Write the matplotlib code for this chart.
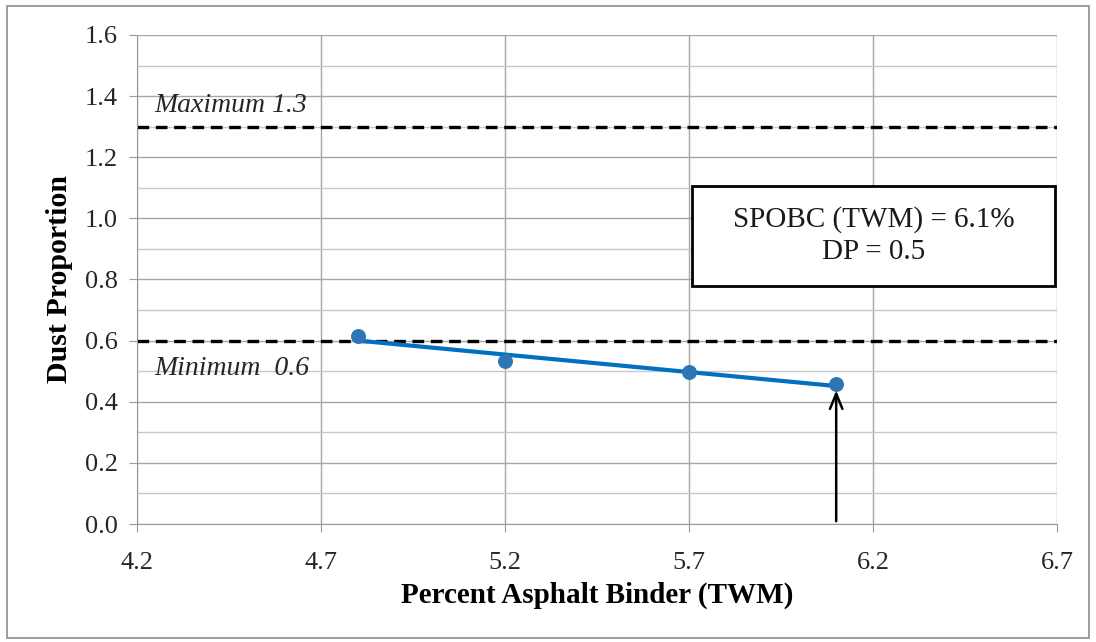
import matplotlib
matplotlib.use("Agg")
import matplotlib.pyplot as plt
import numpy as np
from matplotlib.patches import Rectangle

binder = [4.8, 5.2, 5.7, 6.1]
dust_prop = [0.615, 0.533, 0.497, 0.458]
max_limit = 1.3
min_limit = 0.6
spobc = 6.1

plt.rcParams['font.family'] = ['Liberation Serif', 'DejaVu Serif']

fig = plt.figure(figsize=(10.96, 6.42), dpi=100)
ax = fig.add_axes([0.125, 0.1838, 0.8394, 0.7617])

ax.set_xlim(4.2, 6.7)
ax.set_ylim(0, 1.6)
ax.set_xticks(np.arange(4.2, 6.71, 0.5))
ax.set_yticks(np.arange(0, 1.61, 0.2))
ax.set_yticks(np.arange(0, 1.61, 0.1), minor=True)
ax.set_xticklabels([f"{v:.1f}" for v in np.arange(4.2, 6.71, 0.5)])
ax.set_yticklabels([f"{v:.1f}" for v in np.arange(0, 1.61, 0.2)])
ax.tick_params(axis='both', labelsize=19, color='#999999', length=6, direction='out', labelcolor='#262626')
ax.tick_params(axis='y', which='minor', length=0)
ax.tick_params(axis='x', pad=14)
ax.tick_params(axis='y', pad=8)
ax.grid(True, which='major', color='#a6a6a6', lw=1)
ax.grid(True, which='minor', axis='y', color='#c8c8c8', lw=1)
ax.set_axisbelow(True)
for s in ['top', 'right']:
    ax.spines[s].set_visible(False)
for s in ['left', 'bottom']:
    ax.spines[s].set_color('#999999')

ax.axhline(max_limit, color='black', ls=(0, (3.5, 2)), lw=2.4)
ax.axhline(min_limit, color='black', ls=(0, (3.5, 2)), lw=2.4)
ax.text(4.248, 1.37, f"Maximum {max_limit}", fontsize=20, style='italic', va='center', color='#262626')
ax.text(4.248, 0.51, f"Minimum  {min_limit}", fontsize=20, style='italic', va='center', color='#262626')

coef = np.polyfit(binder, dust_prop, 1)
xs = np.array([min(binder), max(binder)])
ax.plot(xs, np.polyval(coef, xs), color='#0070C0', lw=3, zorder=3)
ax.scatter(binder, dust_prop, s=95, color='#2E75B6', zorder=4)

ax.annotate('', xy=(spobc, np.polyval(coef, spobc) - 0.005), xytext=(spobc, 0),
            arrowprops=dict(arrowstyle='->,head_width=0.45,head_length=1.1', color='black', lw=1.8))

ax.add_patch(Rectangle((5.708, 0.779), 0.986, 0.327, fc='white', ec='black', lw=2, zorder=5))
ax.text(6.201, 0.9425, "SPOBC (TWM) = 6.1%\nDP = 0.5", fontsize=21, ha='center', va='center',
        linespacing=1.3, zorder=6, color='#1a1a1a')

ax.set_xlabel("Percent Asphalt Binder (TWM)", fontsize=21, fontweight='bold', labelpad=6)
ax.set_ylabel("Dust Proportion", fontsize=21.5, fontweight='bold', labelpad=8)

fig.patches.append(Rectangle((0.006, 0.006), 0.988, 0.984, transform=fig.transFigure,
                             fill=False, ec='#8c8c8c', lw=1.2))

fig.savefig("out.png", dpi=100)
